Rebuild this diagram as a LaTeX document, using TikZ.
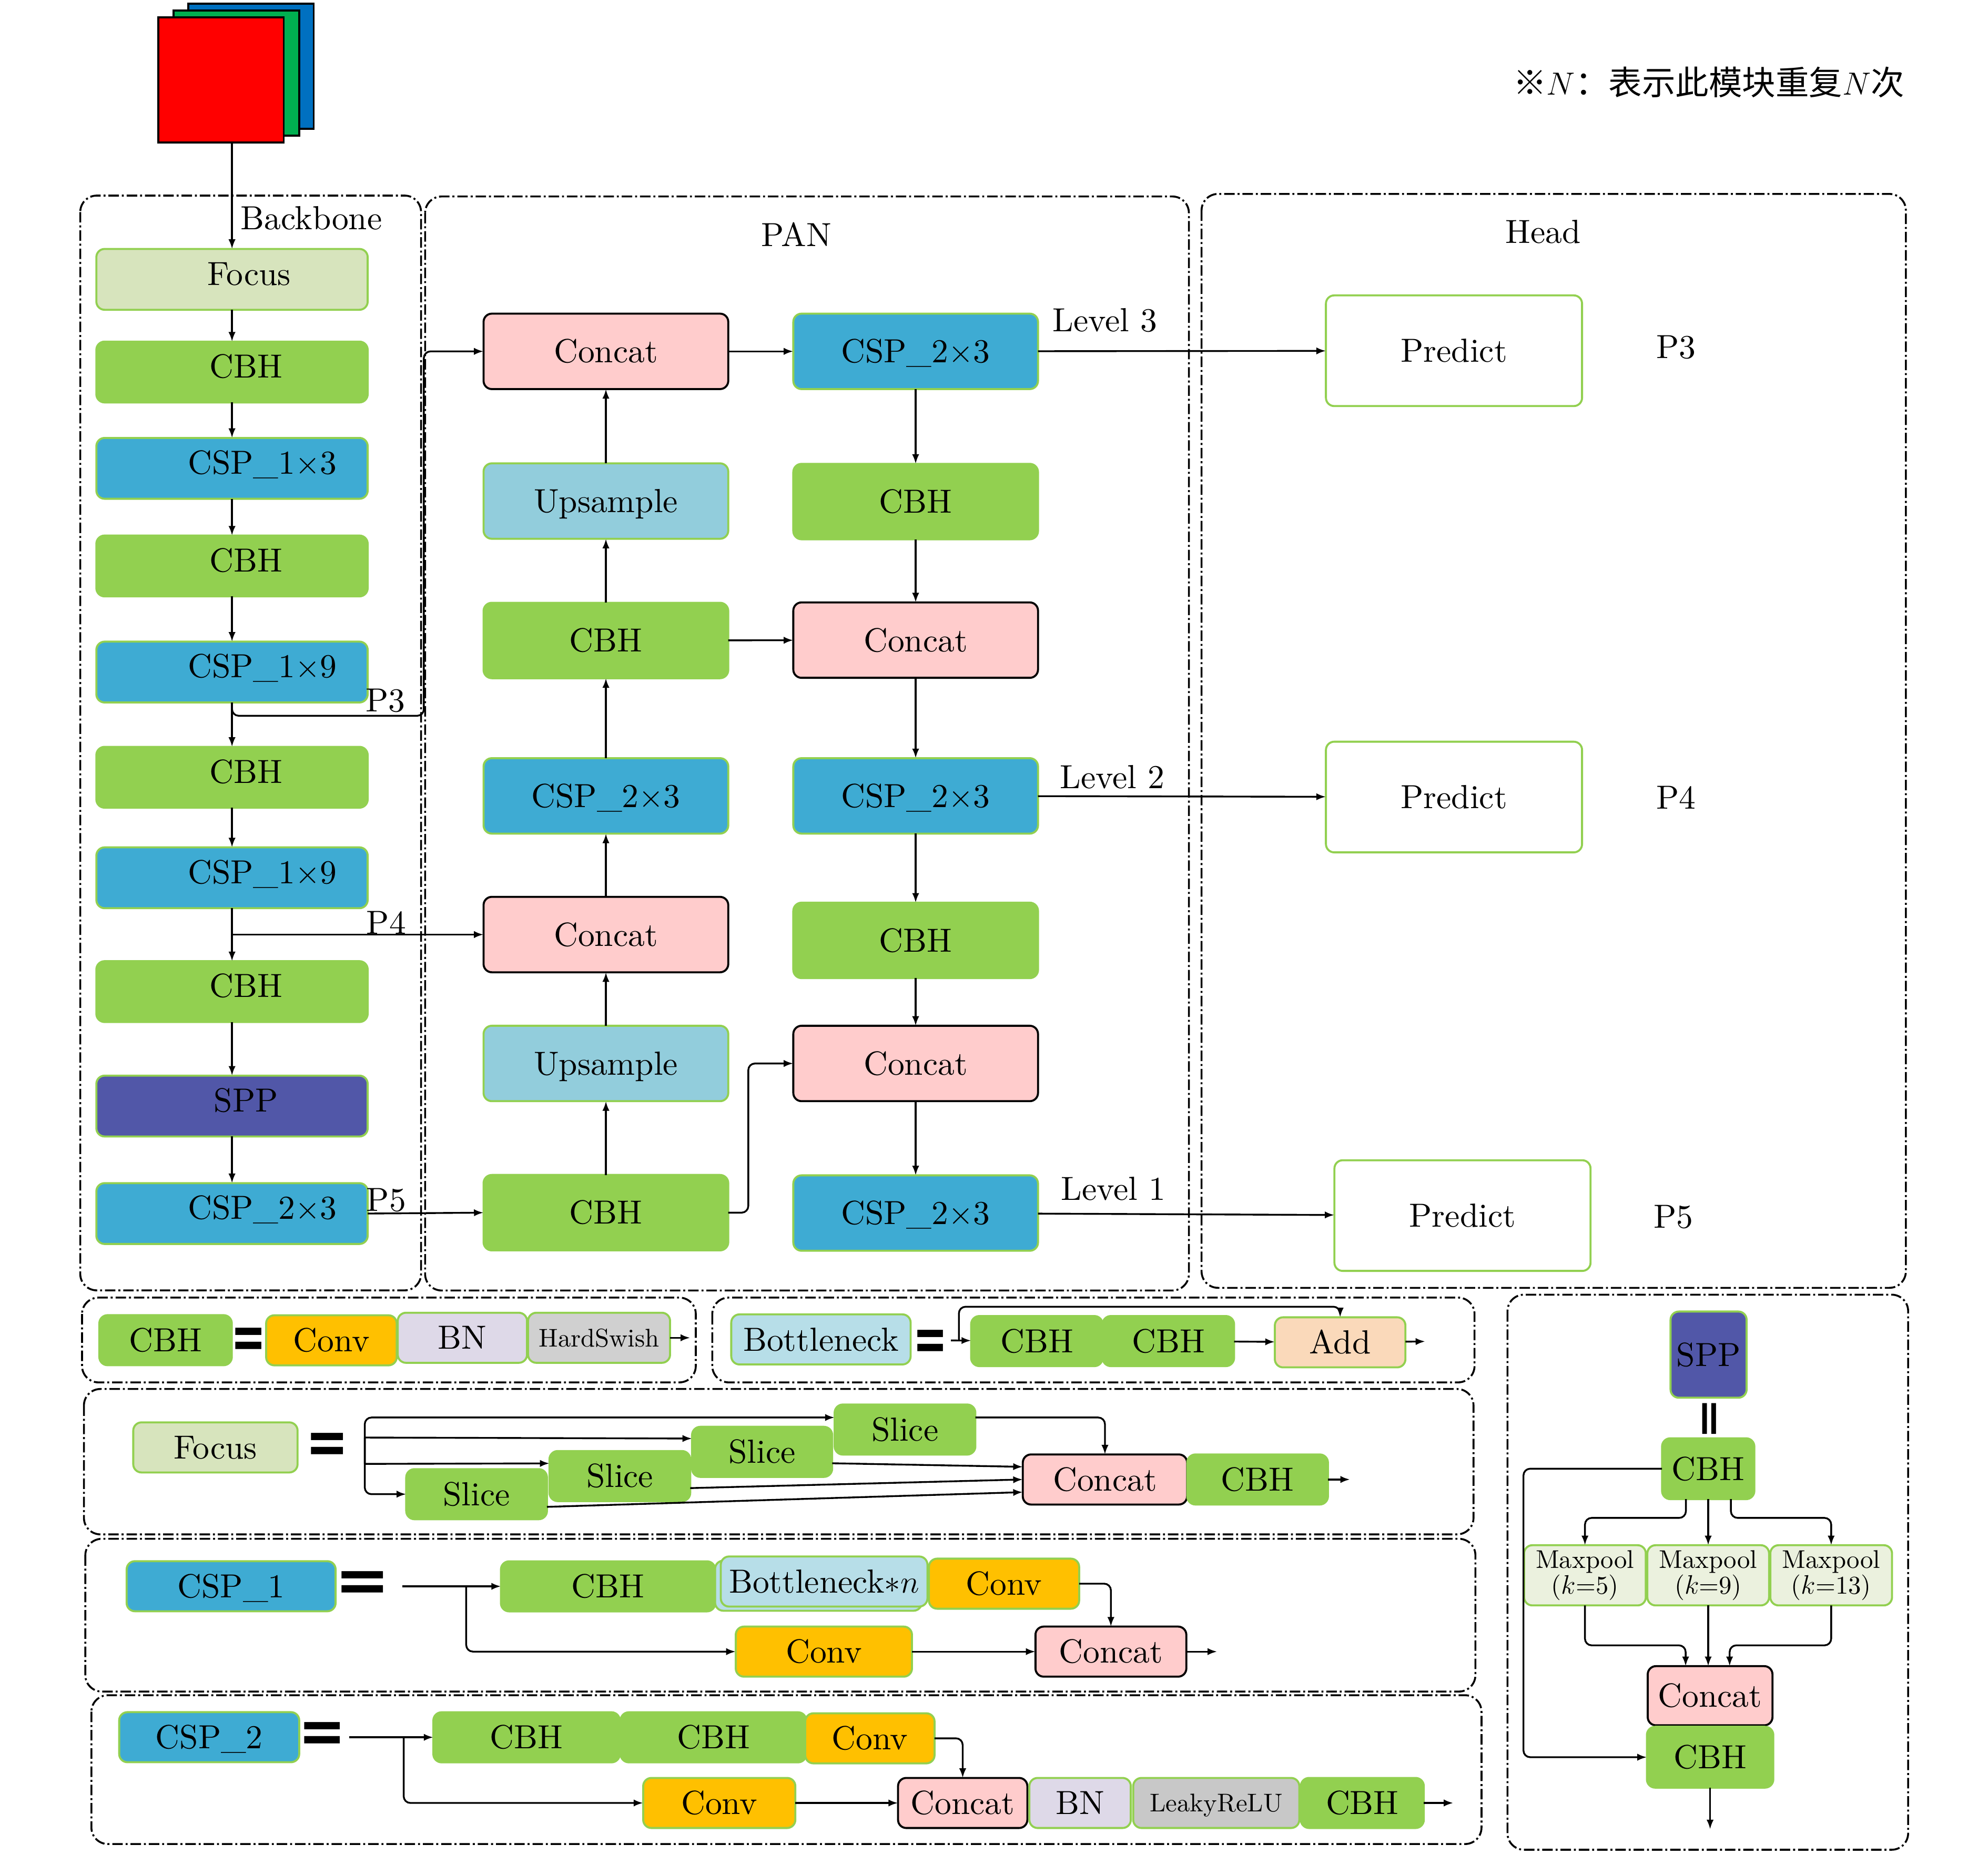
\documentclass[tikz,border=0pt]{standalone}
\usepackage{fontspec}
\usepackage{tikz}
\usetikzlibrary{arrows.meta}
\setmainfont{lmroman10}[Extension=.otf, UprightFont=*-regular, BoldFont=*-bold, ItalicFont=*-italic, BoldItalicFont=*-bolditalic]
\newfontfamily\cjk{Noto Sans CJK SC}
\newfontfamily\eqfont{DejaVu Sans}
\definecolor{cbhgreen}{HTML}{92D050}
\definecolor{cspblue}{HTML}{3EABD3}
\definecolor{upblue}{HTML}{92CDDC}
\definecolor{focgreen}{HTML}{D7E4BD}
\definecolor{catpink}{HTML}{FFCCCC}
\definecolor{convorange}{HTML}{FFC000}
\definecolor{bnlilac}{HTML}{DED9E8}
\definecolor{hsgray}{HTML}{D0D0D0}
\definecolor{lrgray}{HTML}{C8C8C8}
\definecolor{botblue}{HTML}{B7DEE8}
\definecolor{addpeach}{HTML}{FAD9BA}
\definecolor{mpgreen}{HTML}{EBF1DE}
\definecolor{sppblue}{HTML}{5157A8}
\definecolor{imggreen}{HTML}{00B050}
\definecolor{imgblue}{HTML}{0070C0}
\newcommand{\eqsign}[1]{\resizebox{#1}{4.8mm}{\eqfont\bfseries =}}
\tikzset{
	blk/.style={rounded corners=1.3mm, line width=0.9pt, inner sep=0pt, outer sep=0pt},
	cbh/.style={blk, fill=cbhgreen, draw=cbhgreen},
	csp/.style={blk, fill=cspblue, draw=cbhgreen},
	upsm/.style={blk, fill=upblue, draw=cbhgreen},
	foc/.style={blk, fill=focgreen, draw=cbhgreen},
	cat/.style={blk, fill=catpink, draw=black},
	conv/.style={blk, fill=convorange, draw=cbhgreen},
	bn/.style={blk, fill=bnlilac, draw=cbhgreen},
	act/.style={blk, draw=cbhgreen, font=\fontsize{11.5}{13}\selectfont},
	bott/.style={blk, fill=botblue, draw=cbhgreen},
	addn/.style={blk, fill=addpeach, draw=cbhgreen},
	mp/.style={blk, fill=mpgreen, draw=cbhgreen, align=center, minimum width=19.2mm, minimum height=9.5mm, font=\fontsize{11.5}{11.5}\selectfont},
	spp/.style={blk, fill=sppblue, draw=cbhgreen},
	pred/.style={blk, fill=white, draw=cbhgreen, minimum width=40.4mm, minimum height=17.46mm, text height=10.2pt, text depth=0pt},
	img/.style={draw, line width=0.9pt, inner sep=0pt, minimum width=19.8mm, minimum height=19.74mm},
	bbox/.style={minimum width=42.8mm, minimum height=9.6mm, text height=10.2pt, text depth=5.1pt},
	pbox/.style={minimum width=38.6mm, minimum height=11.9mm, text height=10.2pt, text depth=0pt},
	lg/.style={minimum height=7.9mm, text height=10.2pt, text depth=0pt},
	sect/.style={line width=0.85pt, rounded corners=2.6mm, dash pattern=on 4.7pt off 1.3pt on 0.9pt off 1.3pt},
	bb/.style={execute at begin node=\hspace*{4.4mm}},
	bbf/.style={execute at begin node=\hspace*{5.4mm}},
	bbc/.style={execute at begin node=\hspace*{9.6mm}},
	lab/.style={inner sep=0pt}
}

\begin{document}
\begin{tikzpicture}[x=0.2mm, y=-0.2mm, >={Latex[length=4.3pt,width=3.2pt]},
	font=\fontsize{15}{18}\selectfont]
\useasboundingbox (0,0) rectangle (1568,1463.1);

% input
\node[img, fill=imgblue] (imgb) at (197.9,52.2) {};
\node[img, fill=imggreen] (imgg) at (186.5,57.7) {};
\node[img, fill=red] (imgr) at (174.3,63.2) {};
\node[lab, font=\cjk\fontsize{15}{18}\selectfont] (note) at (1347.8,65) {※$N$：表示此模块重复$N$次};

% frames
\draw[sect] (63.3,154.3) rectangle (332.1,1018);
\draw[sect] (335.3,155) rectangle (937.7,1018.1);
\draw[sect] (947.7,153) rectangle (1503.2,1016);
\draw[sect] (64.7,1023.7) rectangle (548.8,1090.6);
\draw[sect] (561.8,1023.7) rectangle (1163,1090.6);
\draw[sect] (66.2,1095.8) rectangle (1162.2,1210.5);
\draw[sect] (67.3,1214) rectangle (1163.7,1334.5);
\draw[sect] (72.1,1337.4) rectangle (1168.5,1454.8);
\draw[sect] (1189,1021.4) rectangle (1505,1459.3);
\node[lab] (tbb) at (245.5,172) {Backbone};
\node[lab] (tpan) at (628,185) {PAN};
\node[lab] (thead) at (1217,183) {Head};

% backbone
\node[foc, bbf, bbox] (focus) at (183,220.4) {Focus};
\node[cbh, bb, bbox] (b1) at (183,293.5) {CBH};
\node[csp, bbc, bbox] (b2) at (183,369.5) {CSP\_1$\times$3};
\node[cbh, bb, bbox] (b3) at (183,446.5) {CBH};
\node[csp, bbc, bbox] (b4) at (183,530.2) {CSP\_1$\times$9};
\node[cbh, bb, bbox] (b5) at (183,613.2) {CBH};
\node[csp, bbc, bbox] (b6) at (183,692.5) {CSP\_1$\times$9};
\node[cbh, bb, bbox] (b7) at (183,782.3) {CBH};
\node[spp, bb, bbox] (b8) at (183,872.6) {SPP};
\node[csp, bbc, bbox] (b9) at (183,957.4) {CSP\_2$\times$3};
\draw[thick,->] (focus.north |- imgr.south) -- (focus);
\draw[thick,->] (focus) -- (b1);
\draw[thick,->] (b1) -- (b2);
\draw[thick,->] (b2) -- (b3);
\draw[thick,->] (b3) -- (b4);
\draw[thick,->] (b4) -- (b5);
\draw[thick,->] (b5) -- (b6);
\draw[thick,->] (b6) -- (b7);
\draw[thick,->] (b7) -- (b8);
\draw[thick,->] (b8) -- (b9);
\node[lab] (tp3) at (304,552.6) {P3};
\node[lab] (tp4) at (304.6,728.1) {P4};
\node[lab] (tp5) at (304.6,946.9) {P5};

% PAN
\node[cat, pbox] (pcat1) at (477.9,277.2) {Concat};
\node[upsm, pbox] (pup1) at (477.9,395.3) {Upsample};
\node[cbh, pbox] (pcbh1) at (477.9,505.3) {CBH};
\node[csp, pbox] (pcsp1) at (477.9,627.9) {CSP\_2$\times$3};
\node[cat, pbox] (pcat2) at (477.9,737.3) {Concat};
\node[upsm, pbox] (pup2) at (477.9,839) {Upsample};
\node[cbh, pbox] (pcbh2) at (477.9,956.7) {CBH};
\node[csp, pbox] (qcsp1) at (722.2,277.2) {CSP\_2$\times$3};
\node[cbh, pbox] (qcbh1) at (722.2,395.7) {CBH};
\node[cat, pbox] (qcat1) at (722.2,505) {Concat};
\node[csp, pbox] (qcsp2) at (722.2,627.9) {CSP\_2$\times$3};
\node[cbh, pbox] (qcbh2) at (722.2,741.9) {CBH};
\node[cat, pbox] (qcat2) at (722.2,839) {Concat};
\node[csp, pbox] (qcsp3) at (722.2,957) {CSP\_2$\times$3};
\coordinate (p3turn) at (334.3,564.7);
\draw[thick,->,rounded corners=3pt] (b4.south) |- (p3turn) |- (pcat1.west);
\draw[thick,->] (b6.south |- pcat2.west) -- (pcat2.west);
\draw[thick,->] (b9.east) -- (pcbh2.west);
\draw[thick,->] (pcbh2) -- (pup2);
\draw[thick,->] (pup2) -- (pcat2);
\draw[thick,->] (pcat2) -- (pcsp1);
\draw[thick,->] (pcsp1) -- (pcbh1);
\draw[thick,->] (pcbh1) -- (pup1);
\draw[thick,->] (pup1) -- (pcat1);
\draw[thick,->] (pcat1) -- (qcsp1);
\draw[thick,->] (pcbh1) -- (qcat1);
\draw[thick,->,rounded corners=3pt] (pcbh2.east) -- ++(15.8,0) |- (qcat2.west);
\draw[thick,->] (qcsp1) -- (qcbh1);
\draw[thick,->] (qcbh1) -- (qcat1);
\draw[thick,->] (qcat1) -- (qcsp2);
\draw[thick,->] (qcsp2) -- (qcbh2);
\draw[thick,->] (qcbh2) -- (qcat2);
\draw[thick,->] (qcat2) -- (qcsp3);

% head
\node[pred] (pred1) at (1146.8,276.7) {Predict};
\node[pred] (pred2) at (1146.8,628.8) {Predict};
\node[pred] (pred3) at (1153.5,959) {Predict};
\draw[thick,->] (qcsp1) -- (pred1);
\draw[thick,->] (qcsp2) -- (pred2);
\draw[thick,->] (qcsp3) -- (pred3);
\node[lab] (tl3) at (871.6,252.5) {Level 3};
\node[lab] (tl2) at (877.4,613) {Level 2};
\node[lab] (tl1) at (878,938) {Level 1};
\node[lab] (th3) at (1321.8,273.9) {P3};
\node[lab] (th4) at (1321.8,629.3) {P4};
\node[lab] (th5) at (1320,960) {P5};

% CBH =
\node[cbh, lg, minimum width=20.9mm] (lcbh) at (130.6,1057.3) {CBH};
\node[lab] (eq1) at (195.9,1059.5) {\eqsign{5.5mm}};
\node[conv, lg, minimum width=20.6mm] (lconv) at (261.4,1057.4) {Conv};
\node[bn, lg, minimum width=20.4mm] (lbn) at (364.7,1055.4) {BN};
\node[act, lg, text height=7.9pt, fill=hsgray, minimum width=22.4mm] (lhs) at (472.5,1055.4) {HardSwish};
\coordinate (hsout) at (544.4,1055.4);
\draw[thick,->] (lhs) -- (hsout);

% Bottleneck =
\node[bott, lg, minimum width=28.3mm] (lbot) at (647.5,1056.7) {Bottleneck};
\node[lab] (eq2) at (733.8,1061.3) {\eqsign{5.4mm}};
\node[cbh, lg, minimum width=20.74mm] (lcbh1) at (817.8,1058) {CBH};
\node[cbh, lg, minimum width=20.74mm] (lcbh2) at (921.5,1058) {CBH};
\node[addn, lg, minimum width=20.6mm] (ladd) at (1057,1059) {Add};
\coordinate (bin) at (750,1057.5);
\coordinate (bsplit) at (756.3,1057.5);
\coordinate (btop) at (756.3,1030.9);
\coordinate (addout) at (1124.1,1058.3);
\draw[thick,->] (bin) -- (lcbh1);
\draw[thick,->,rounded corners=3pt] (bsplit) -- (btop) -| (ladd.north);
\draw[thick,->] (lcbh2) -- (ladd);
\draw[thick,->] (ladd) -- (addout);

% Focus =
\node[foc, lg, minimum width=25.92mm] (lfoc) at (169.9,1141.9) {Focus};
\node[lab] (eq3) at (258.1,1142.6) {\eqsign{6.75mm}};
\node[cbh, lg, minimum width=22.2mm] (sl1) at (713.8,1127.8) {Slice};
\node[cbh, lg, minimum width=22.1mm] (sl2) at (601.1,1145.4) {Slice};
\node[cbh, lg, minimum width=22.2mm] (sl3) at (488.9,1164.5) {Slice};
\node[cbh, lg, minimum width=22.2mm] (sl4) at (375.9,1178.8) {Slice};
\node[cat, lg, minimum width=25.92mm] (fcat) at (871.5,1167.2) {Concat};
\node[cbh, lg, minimum width=22.2mm] (fcbh) at (991.9,1167.2) {CBH};
\coordinate (ftop) at (287.7,1118.3);
\coordinate (fbot) at (287.7,1178.8);
\coordinate (f2) at (287.7,1134.1);
\coordinate (f3) at (287.7,1154.9);
\coordinate (fout) at (1064.8,1167.2);
\draw[thick,->,rounded corners=3pt] (f3) -- (ftop) -- (sl1.west |- ftop);
\draw[thick,->,rounded corners=3pt] (f2) -- (fbot) -- (sl4.west);
\draw[thick,->] (f2) -- ([yshift=2.1mm]sl2.west);
\draw[thick,->] (f3) -- ([yshift=2mm]sl3.west);
\draw[thick,->,rounded corners=3pt] (sl1.east |- ftop) -| (fcat.north);
\draw[thick,->] ([yshift=-1.8mm]sl2.east) -- ([yshift=2mm]fcat.west);
\draw[thick,->] ([yshift=-1.9mm]sl3.east) -- (fcat.west);
\draw[thick,->] ([yshift=-2mm]sl4.east) -- ([yshift=-2mm]fcat.west);
\draw[thick,->] (fcbh) -- (fout);

% CSP_1 =
\node[csp, lg, minimum width=32.96mm] (lcsp1) at (182.3,1251.4) {CSP\_1};
\node[lab] (eq4) at (285.9,1251.7) {\eqsign{8.75mm}};
\node[cbh, lg, minimum width=33.8mm] (ccbh) at (479.6,1251.5) {CBH};
\node[bott, lg, minimum width=32.6mm] (cbotb) at (645.5,1251) {};
\node[bott, lg, minimum width=32.6mm] (cbot) at (650,1247.7) {Bottleneck$*n$};
\node[conv, lg, minimum width=23.7mm] (cconv1) at (791.9,1249.4) {Conv};
\node[conv, lg, minimum width=27.8mm] (cconv2) at (649.8,1303) {Conv};
\node[cat, lg, minimum width=23.8mm] (ccat) at (876.2,1303) {Concat};
\coordinate (c1in) at (317.3,1251.5);
\coordinate (c1split) at (367.7,1251.5);
\coordinate (c1out) at (960,1303);
\draw[thick,->] (c1in) -- (ccbh);
\draw[thick,->,rounded corners=3pt] (c1split) |- (cconv2.west);
\draw[thick,->,rounded corners=3pt] (cconv1.east) -| (ccat.north);
\draw[thick,->] (cconv2) -- (ccat);
\draw[thick,->] (ccat) -- (c1out);

% CSP_2 =
\node[csp, lg, minimum width=28.4mm] (lcsp2) at (165,1370.5) {CSP\_2};
\node[lab] (eq5) at (254,1370.9) {\eqsign{7.5mm}};
\node[cbh, lg, minimum width=29.4mm] (dcbh1) at (415.3,1370.6) {CBH};
\node[cbh, lg, minimum width=29.28mm] (dcbh2) at (562.7,1370.6) {CBH};
\node[conv, lg, minimum width=20.4mm] (dconv1) at (686.1,1371.4) {Conv};
\node[conv, lg, minimum width=24mm] (dconv2) at (567.3,1422.4) {Conv};
\node[cat, lg, minimum width=20.4mm] (dcat) at (759.3,1422.4) {Concat};
\node[bn, lg, minimum width=16mm] (dbn) at (851.9,1422.4) {BN};
\node[act, lg, text height=7.9pt, fill=lrgray, minimum width=26.2mm] (dlr) at (959.3,1422.4) {LeakyReLU};
\node[cbh, lg, minimum width=19.4mm] (dcbh3) at (1074.5,1422.4) {CBH};
\coordinate (c2in) at (275.5,1370.6);
\coordinate (c2split) at (318.4,1370.6);
\coordinate (c2out) at (1146.3,1422.4);
\draw[thick,->] (c2in) -- (dcbh1);
\draw[thick,->,rounded corners=3pt] (c2split) |- (dconv2.west);
\draw[thick,->,rounded corners=3pt] (dconv1.east) -| (dcat.north);
\draw[thick,->] (dconv2) -- (dcat);
\draw[thick,->] (dcbh3) -- (c2out);

% SPP =
\node[spp, minimum width=12mm, minimum height=13.6mm] (sspp) at (1347.6,1068.7) {SPP};
\node[lab, rotate=90] (vbar) at (1350.4,1119.4) {\resizebox{6.5mm}{3.1mm}{\eqfont\bfseries =}};
\node[cbh, minimum width=14.56mm, minimum height=9.6mm] (scbh1) at (1347.3,1158.7) {CBH};
\node[mp] (smp1) at (1250.1,1242.8) {Maxpool\\($k$=5)};
\node[mp] (smp2) at (1347.3,1242.8) {Maxpool\\($k$=9)};
\node[mp] (smp3) at (1444.3,1242.8) {Maxpool\\($k$=13)};
\node[cat, minimum width=19.68mm, minimum height=9.34mm] (scat) at (1348.8,1337.8) {Concat};
\node[cbh, minimum width=19.94mm, minimum height=9.6mm] (scbh2) at (1348.8,1386.3) {CBH};
\coordinate (sout) at (1348.8,1443.2);
\draw[thick,->,rounded corners=3pt] ([xshift=-3.52mm]scbh1.south) -- ++(0,14.8) -| (smp1.north);
\draw[thick,->] (scbh1) -- (smp2);
\draw[thick,->,rounded corners=3pt] ([xshift=3.58mm]scbh1.south) -- ++(0,14.8) -| (smp3.north);
\draw[thick,->,rounded corners=3pt] (smp1.south) -- ++(0,31.5) -| ([xshift=-3.86mm]scat.north);
\draw[thick,->] (smp2) -- (smp2 |- scat.north);
\draw[thick,->,rounded corners=3pt] (smp3.south) -- ++(0,31.5) -| ([xshift=3.08mm]scat.north);
\draw[thick,->,rounded corners=3pt] (scbh1.west) -- ++(-109.3,0) |- (scbh2.west);
\draw[thick,->] (scbh2) -- (sout);
\end{tikzpicture}
\end{document}
